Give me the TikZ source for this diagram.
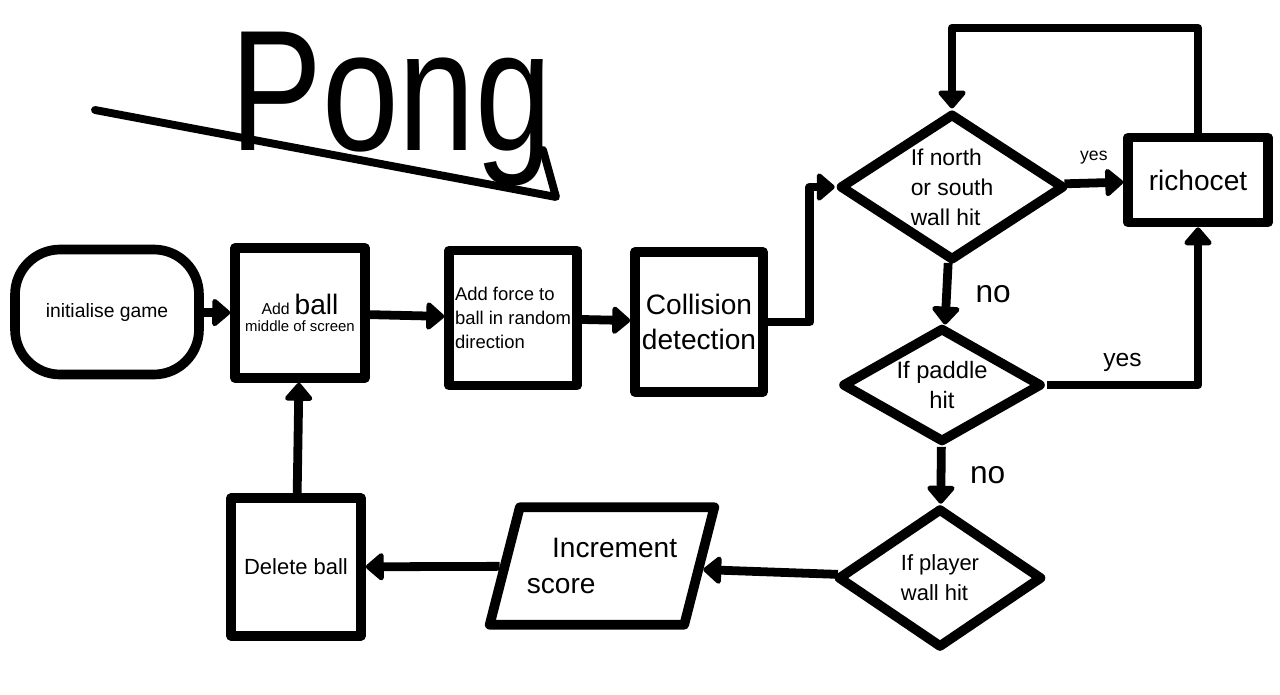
\documentclass[tikz,border=0pt]{standalone}
\usepackage{fontspec}
\setmainfont{Liberation Sans}
\usetikzlibrary{shapes.geometric, arrows.meta, positioning}

\tikzset{
        box/.style={draw, rectangle, line width=5.5pt, line join=round, fill=white, align=center, inner sep=2pt},
        decision/.style={draw, diamond, shape aspect=1.7, line width=5.5pt, line join=round, fill=white, inner sep=0pt, align=left},
        flow/.style={line width=5pt, line join=round, -{Triangle[length=11pt, width=18pt, round]}},
        lbl/.style={inner sep=1pt},
}

\begin{document}
\begin{tikzpicture}[x=0.02cm, y=-0.02cm]
        \useasboundingbox (0,0) rectangle (1280,694);

        % title
        \node[anchor=base west, inner sep=0pt, font=\fontsize{98}{98}\selectfont] (title) at (230,150) {\scalebox{0.8}[1]{Pong}};
        \draw[line width=4.5pt, line cap=round, line join=round] (95,110) -- (556,197) -- (543,150);

        % main row
        \node[box, rounded corners=0.9cm, minimum width=3.68cm, minimum height=2.5cm, font=\fontsize{11}{13}\selectfont] (init) at (107,312) {initialise game};
        \node[box, minimum width=2.6cm, minimum height=2.6cm] (ball) at (300,313) {{\fontsize{9}{10}\selectfont Add} {\fontsize{16}{17}\selectfont ball}\\[-2pt]{\fontsize{8.5}{10}\selectfont middle of screen}};
        \node[box, minimum width=2.56cm, minimum height=2.7cm, align=left, font=\fontsize{10.5}{13.5}\selectfont] (force) at (513,318) {Add force to\\ball in random\\direction};
        \node[box, minimum width=2.56cm, minimum height=2.8cm, font=\fontsize{16}{20}\selectfont] (coll) at (699,322) {Collision\\detection};

        % decisions
        \node[decision, minimum width=4.5cm, minimum height=2.95cm, font=\fontsize{13}{17}\selectfont] (north) at (952,187) {If north\\or south\\wall hit};
        \node[box, minimum width=2.8cm, minimum height=1.7cm, font=\fontsize{16}{18}\selectfont] (rich) at (1198,180) {richocet};
        \node[decision, align=center, minimum width=4.0cm, minimum height=2.3cm, font=\fontsize{13.5}{17}\selectfont] (paddle) at (942,385) {If paddle\\hit};
        \node[decision, minimum width=4.1cm, minimum height=2.8cm, font=\fontsize{12.5}{17}\selectfont] (player) at (940,578) {If player\\wall hit};

        % bottom row
        \node[box, trapezium, trapezium left angle=65, trapezium right angle=115, trapezium stretches=true,
                minimum width=4.5cm, minimum height=2.35cm, align=left, font=\fontsize{16}{20}\selectfont] (inc) at (602,566) {\hspace*{0.9em}Increment\\score};
        \node[box, minimum width=2.6cm, minimum height=2.75cm, font=\fontsize{12.5}{15}\selectfont] (del) at (296,567) {Delete ball};

        \coordinate (loop) at (1000,28);

        \draw[flow] (init) edge (ball)
        (ball) edge (force)
        (force) edge (coll)
        (north) edge node[lbl, above=7pt, font=\fontsize{10}{12}\selectfont] {yes} (rich)
        (north) edge node[lbl, right=13pt, font=\fontsize{18}{20}\selectfont] {no} (paddle)
        (paddle) edge node[lbl, right=13pt, font=\fontsize{18}{20}\selectfont] {no} (player)
        (player) edge (inc)
        (inc) edge (del)
        (del) edge (ball)
        ;
        \draw[flow] (coll.east) -- ++(42,0) |- (north.west);
        \draw[flow] (rich.north) -- (rich.north |- loop) -| (north.north);
        \draw[flow] (paddle.east) -| node[lbl, pos=0.25, above=4pt, font=\fontsize{14}{16}\selectfont] {yes} (rich.south);
\end{tikzpicture}
\end{document}
